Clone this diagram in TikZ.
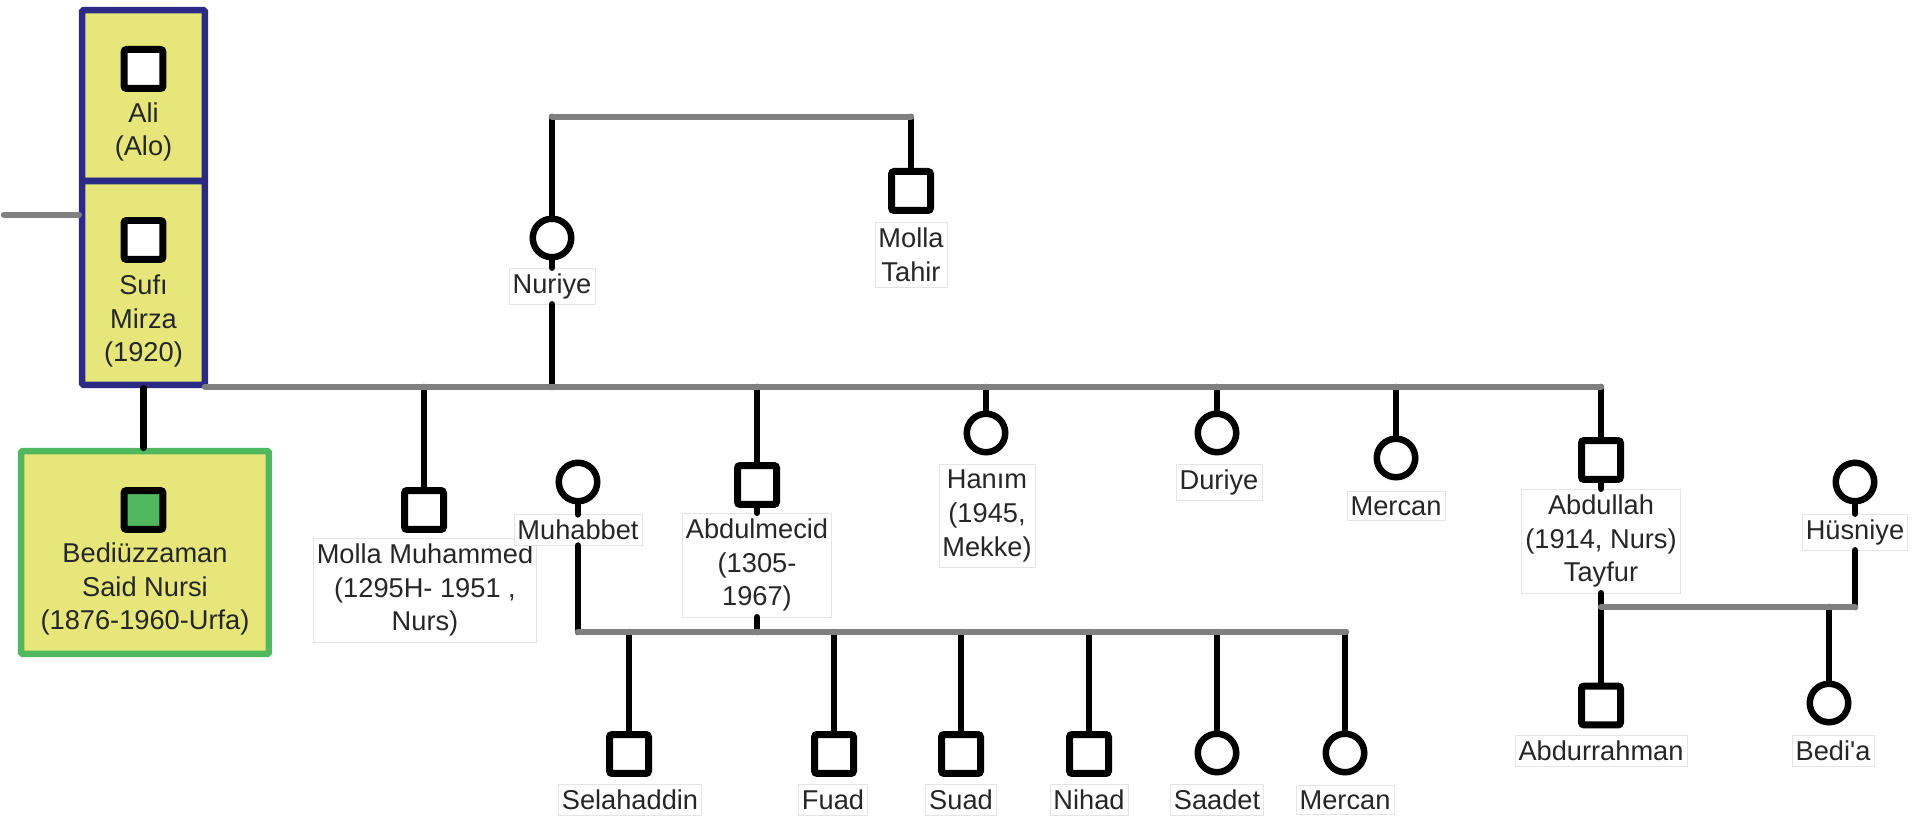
\documentclass[tikz,border=0pt]{standalone}
\usepackage{fontspec}
\setmainfont{Liberation Sans}
\usepackage{tikz}

\definecolor{famyellow}{RGB}{230,230,122}
\definecolor{famblue}{RGB}{43,43,132}
\definecolor{famgreen}{RGB}{80,185,95}
\definecolor{linkgray}{RGB}{128,128,128}

\tikzset{
  male/.style={rectangle, draw=black, line width=0.14cm, fill=white, minimum size=0.78cm, inner sep=0pt, rounded corners=1.5pt},
  female/.style={circle, draw=black, line width=0.13cm, fill=white, minimum size=0.77cm, inner sep=0pt},
  lbl/.style={draw=black!10, fill=white, align=center, inner xsep=2pt, inner ysep=3pt, text=black!85, font=\fontsize{15.5}{19.3}\selectfont},
  famtxt/.style={align=center, text=black!85, font=\fontsize{15.5}{19.3}\selectfont},
  famhead/.style={draw=famblue, line width=0.13cm, fill=famyellow, inner sep=0pt, rounded corners=1pt},
  marriage/.style={draw=linkgray, line width=0.13cm, line cap=round},
  descent/.style={draw=black, line width=0.13cm, line cap=round}
}

\begin{document}
\begin{tikzpicture}[x=0.02cm, y=-0.02cm]
    \useasboundingbox (0,0) rectangle (1927,820);
    % father's side
    \node[famhead, minimum width=2.46cm, minimum height=3.42cm] (alibox) at (143.5,95.5) {};
    \node[famhead, minimum width=2.46cm, minimum height=4.08cm] (sufibox) at (143.5,283) {};
    \node[famhead, draw=famgreen, minimum width=4.96cm, minimum height=4.06cm] (saidbox) at (145,552.5) {};
    \node[male] (ali) at (143.5,69) {};
    \node[famtxt] (alitxt) at (143.5,132) {Ali\\(Alo)};
    \node[male] (sufi) at (143.5,240) {};
    \node[famtxt] (sufitxt) at (143.5,321) {Sufı\\Mirza\\(1920)};
    \node[male, fill=famgreen] (said) at (143.5,510) {};
    \node[famtxt] (saidtxt) at (145,589) {Bediüzzaman\\Said Nursi\\(1876-1960-Urfa)};
    % mother's side
    \node[female] (nuriye) at (552,238) {};
    \node[lbl] (nuriyelbl) at (552,286) {Nuriye};
    \node[male] (mtahir) at (911,191) {};
    \node[lbl] (mtahirlbl) at (911,255) {Molla\\Tahir};
    % siblings
    \node[male] (mmuh) at (424,510) {};
    \node[lbl] (mmuhlbl) at (425,590) {Molla Muhammed\\(1295H- 1951 ,\\Nurs)};
    \node[female] (muhab) at (578,482) {};
    \node[lbl] (muhablbl) at (578,530) {Muhabbet};
    \node[male] (abdm) at (757,485) {};
    \node[lbl] (abdmlbl) at (757,565) {Abdulmecid\\(1305-\\1967)};
    \node[female] (hanim) at (986,433) {};
    \node[lbl] (hanimlbl) at (987,516) {Hanım\\(1945,\\Mekke)};
    \node[female] (duriye) at (1217,433) {};
    \node[lbl] (duriyelbl) at (1219,482) {Duriye};
    \node[female] (mercan) at (1396,458) {};
    \node[lbl] (mercanlbl) at (1396,506) {Mercan};
    \node[male] (abdul) at (1601,460) {};
    \node[lbl] (abdullbl) at (1601,541) {Abdullah\\(1914, Nurs)\\Tayfur};
    \node[female] (husn) at (1855,482) {};
    \node[lbl] (husnlbl) at (1855,532) {Hüsniye};
    % nephews and nieces
    \node[male] (selah) at (629,754) {};
    \node[lbl] (selahlbl) at (630,800) {Selahaddin};
    \node[male] (fuad) at (834,754) {};
    \node[lbl] (fuadlbl) at (833,800) {Fuad};
    \node[male] (suad) at (961,754) {};
    \node[lbl] (suadlbl) at (961,800) {Suad};
    \node[male] (nihad) at (1089,754) {};
    \node[lbl] (nihadlbl) at (1089,800) {Nihad};
    \node[female] (saadet) at (1217,753) {};
    \node[lbl] (saadetlbl) at (1217,800) {Saadet};
    \node[female] (mercanb) at (1345,753) {};
    \node[lbl] (mercanblbl) at (1345,800) {Mercan};
    \node[male] (abdurr) at (1601,705.5) {};
    \node[lbl] (abdurrlbl) at (1601,751) {Abdurrahman};
    \node[female] (bedia) at (1829,703) {};
    \node[lbl] (bedialbl) at (1833,751) {Bedi\textquotesingle a};

    \coordinate (leftend) at (4,215);
    \coordinate (topl) at (552,117);
    \coordinate (topr) at (911,117);
    \coordinate (sibl) at (205,387);
    \coordinate (sibr) at (1601,387);
    \coordinate (kidsl) at (578,632);
    \coordinate (kidsr) at (1346,632);
    \coordinate (abdl) at (1601,607);
    \coordinate (abdr) at (1855,607);

    \draw[descent] (topl) -- (nuriye) (nuriye) -- (nuriyelbl) (nuriyelbl) -- (nuriye |- sibl);
    \draw[descent] (topr) -- (mtahir);
    \draw[descent] (sufibox.south) -- (sufibox.south |- saidbox.north);
    \draw[descent] (mmuh |- sibl) -- (mmuh);
    \draw[descent] (abdm |- sibl) -- (abdm) (abdm) -- (abdmlbl) (abdmlbl) -- (abdm |- kidsl);
    \draw[descent] (hanim |- sibl) -- (hanim);
    \draw[descent] (duriye |- sibl) -- (duriye);
    \draw[descent] (mercan |- sibl) -- (mercan);
    \draw[descent] (sibr) -- (abdul) (abdul) -- (abdullbl) (abdullbl) -- (abdl);
    \draw[descent] (muhab) -- (muhablbl) (muhablbl) -- (kidsl);
    \draw[descent] (selah |- kidsl) -- (selah);
    \draw[descent] (fuad |- kidsl) -- (fuad);
    \draw[descent] (suad |- kidsl) -- (suad);
    \draw[descent] (nihad |- kidsl) -- (nihad);
    \draw[descent] (saadet |- kidsl) -- (saadet);
    \draw[descent] (mercanb |- kidsl) -- (mercanb);
    \draw[descent] (husn) -- (husnlbl) (husnlbl) -- (abdr);
    \draw[descent] (abdl) -- (abdurr);
    \draw[descent] (bedia |- abdl) -- (bedia);

    \draw[marriage] (leftend) -- (leftend -| sufibox.west);
    \draw[marriage] (topl) -- (topr);
    \draw[marriage] (sibl) -- (sibr);
    \draw[marriage] (kidsl) -- (kidsr);
    \draw[marriage] (abdl) -- (abdr);
\end{tikzpicture}
\end{document}
